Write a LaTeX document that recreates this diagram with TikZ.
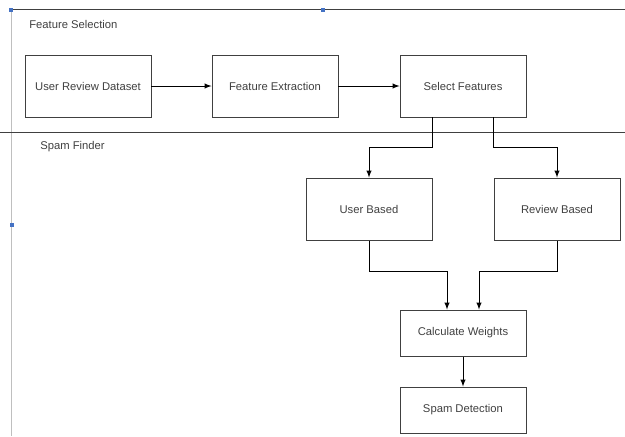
\documentclass[tikz,border=0pt]{standalone}
\usepackage{fontspec}
\setmainfont{Liberation Sans}
\usetikzlibrary{arrows}

\definecolor{linegray}{HTML}{404040}
\definecolor{framegray}{HTML}{BFBFBF}
\definecolor{handleblue}{HTML}{4472C4}

\tikzset{
  procbox/.style={draw=linegray, line width=0.7pt, minimum width=3.15cm, minimum height=1.55cm, inner sep=0pt, text=linegray, font=\fontsize{8}{9}\selectfont},
  lanelabel/.style={anchor=west, inner sep=0pt, text=linegray, font=\fontsize{8}{9}\selectfont},
  flow/.style={>=latex, ->, draw=black, line width=0.7pt}
}

\begin{document}
\begin{tikzpicture}

\useasboundingbox (0,0) rectangle (15.625,-10.9);

% frame of the lanes
\draw [framegray, line width=0.6pt] (0.275,-0.225) -- (0.275,-10.9);
\draw [linegray, line width=0.5pt] (0.275,-0.225) -- (15.625,-0.225);
\draw [linegray, line width=0.6pt] (0,-3.3) -- (15.625,-3.3);

\fill [handleblue] (0.225,-0.2) rectangle (0.325,-0.3);
\fill [handleblue] (8.025,-0.2) rectangle (8.125,-0.3);
\fill [handleblue] (0.25,-5.575) rectangle (0.35,-5.675);

\node [lanelabel] (fslabel) at (0.725,-0.6) {Feature Selection};
\node [lanelabel] (sflabel) at (1.0,-3.675) {Spam Finder};

\node [procbox] (urd) at (2.2,-2.15) {User Review Dataset};
\node [procbox] (fex) at (6.875,-2.15) {Feature Extraction};
\node [procbox] (sel) at (11.575,-2.15) {Select Features};

\node [procbox] (ub) at (9.225,-5.225) {User Based};
\node [procbox] (rb) at (13.925,-5.225) {Review Based};

\node [procbox, minimum height=1.15cm] (cw) at (11.575,-8.325) {Calculate Weights};
\node [procbox, minimum height=1.15cm] (sd) at (11.575,-10.25) {Spam Detection};

\draw [flow] (urd) -- (fex);
\draw [flow] (fex) -- (sel);

\draw [flow] (sel.south -| ub.north east) -- ++(0,-0.75) -| (ub.north);
\draw [flow] (sel.south -| rb.north west) -- ++(0,-0.75) -| (rb.north);

\draw [flow] (ub.south) -- ++(0,-0.775) -| ([xshift=-0.4cm]cw.north);
\draw [flow] (rb.south) -- ++(0,-0.775) -| ([xshift=0.4cm]cw.north);

\draw [flow] (cw) -- (sd);

\end{tikzpicture}
\end{document}
